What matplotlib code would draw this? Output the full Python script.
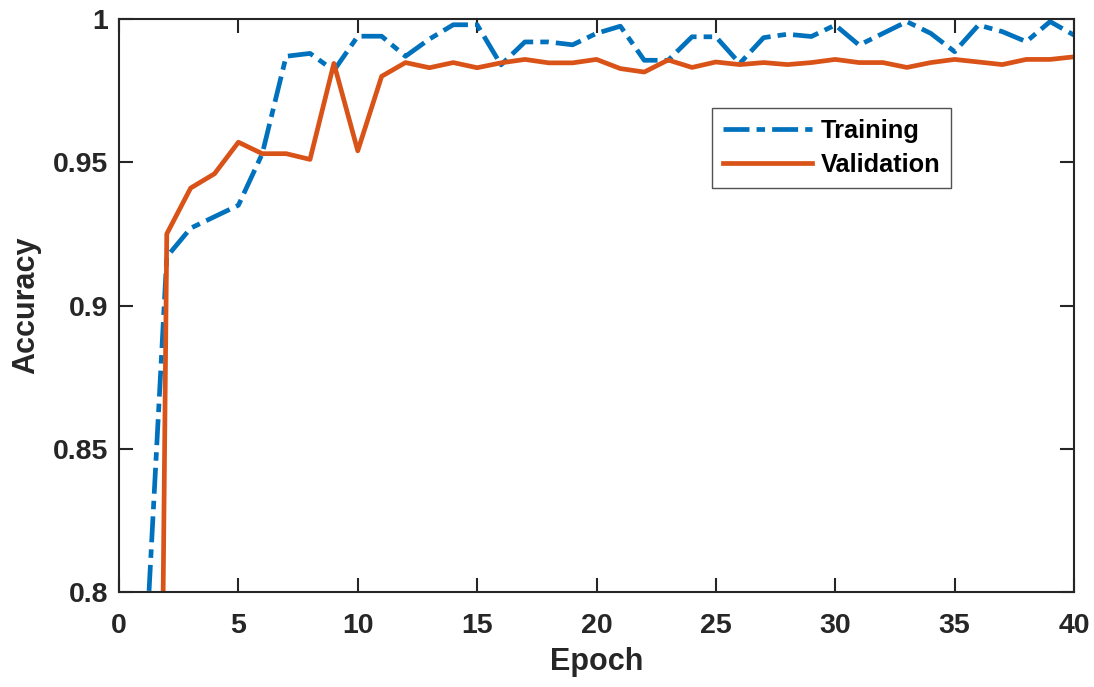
import numpy as np
import matplotlib
matplotlib.use('Agg')
import matplotlib.pyplot as plt

epochs = list(range(1, 41))

training = [0.760, 0.917, 0.927, 0.931, 0.935, 0.953, 0.987, 0.988, 0.982, 0.994,
            0.994, 0.987, 0.993, 0.998, 0.998, 0.984, 0.992, 0.992, 0.991, 0.995,
            0.9975, 0.9856, 0.9856, 0.9938, 0.9938, 0.9845, 0.9935, 0.9947, 0.9939, 0.9979,
            0.9909, 0.995, 0.9991, 0.995, 0.9886, 0.9979, 0.9956, 0.9921, 0.9991, 0.9944]

validation = [0.100, 0.925, 0.941, 0.946, 0.957, 0.953, 0.953, 0.951, 0.9845, 0.954,
              0.980, 0.9848, 0.983, 0.9848, 0.983, 0.9847, 0.9859, 0.9847, 0.9847, 0.9859,
              0.9827, 0.9815, 0.9857, 0.9831, 0.9850, 0.9841, 0.9848, 0.9841, 0.9848, 0.9859,
              0.9848, 0.9848, 0.9831, 0.9848, 0.9859, 0.9850, 0.9841, 0.9859, 0.9859, 0.9868]

plt.rcParams['font.family'] = ['Liberation Sans', 'DejaVu Sans']
plt.rcParams['font.weight'] = 'bold'

axis_color = '#262626'

fig = plt.figure(figsize=(10.94, 6.87), dpi=100)
ax = fig.add_axes([0.1088, 0.1383, 0.8729, 0.8340])

ax.plot(epochs, training, color='#0072BD', linewidth=3.4, linestyle=(0, (5.5, 1.5, 1.8, 1.5)),
        label='Training')
ax.plot(epochs, validation, color='#D95319', linewidth=3.4, linestyle='-', label='Validation')

ax.set_xlim(0, 40)
ax.set_ylim(0.8, 1.0)
ax.set_xticks(range(0, 41, 5))
ax.set_yticks([0.8, 0.85, 0.9, 0.95, 1.0])
ax.set_yticklabels(['0.8', '0.85', '0.9', '0.95', '1'])

ax.tick_params(direction='in', length=10, width=1.5, colors=axis_color, labelsize=20.5,
               top=True, right=True)
ax.tick_params(axis='x', pad=15)
ax.tick_params(axis='y', pad=8)
for lab in ax.get_xticklabels() + ax.get_yticklabels():
    lab.set_fontweight('bold')
for sp in ax.spines.values():
    sp.set_color(axis_color)
    sp.set_linewidth(1.5)

ax.set_xlabel('Epoch', fontsize=22, fontweight='bold', color=axis_color, labelpad=6)
ax.set_ylabel('Accuracy', fontsize=22, fontweight='bold', color=axis_color, labelpad=8)

leg = ax.legend(loc='upper left', bbox_to_anchor=(0.621, 0.845), fontsize=18.3,
                frameon=True, fancybox=False, handlelength=3.5, handletextpad=0.35,
                labelspacing=0.42, borderpad=0.42, borderaxespad=0)
leg.get_frame().set_edgecolor(axis_color)
leg.get_frame().set_linewidth(1.0)
for t in leg.get_texts():
    t.set_fontweight('bold')

plt.savefig('out.png', dpi=100)
